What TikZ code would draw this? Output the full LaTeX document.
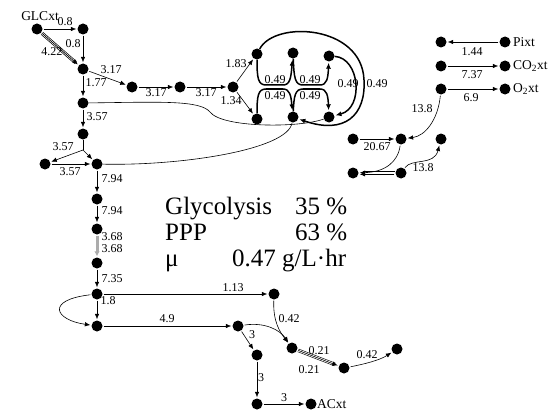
\documentclass[tikz,border=0pt]{standalone}
\usepackage{fontspec}
\setmainfont{Liberation Serif}
\usetikzlibrary{arrows.meta}
\begin{document}
\begin{tikzpicture}[x=1pt,y=-1pt,
  dot/.style={circle,fill=black,inner sep=0pt,minimum size=11pt},
  lbl/.style={font=\fontsize{12}{13}\selectfont,inner sep=0pt},
  ext/.style={font=\fontsize{13.5}{15}\selectfont,inner sep=0pt,anchor=west},
  big/.style={font=\fontsize{25}{27}\selectfont,inner sep=0pt,anchor=base west},
  arr/.style={-{Latex[length=5.5pt,width=4.5pt]},line width=0.6pt,shorten >=1pt,shorten <=1pt},
  plain/.style={line width=0.6pt},
  bund/.style={-{Latex[length=6pt,width=5pt]},line width=1.5pt,shorten >=1pt},
  trip/.style={double,double distance=2pt,line width=0.7pt,shorten <=1pt,shorten >=4pt},
  graybar/.style={-{Latex[length=5pt,width=5.5pt]},line width=3pt,draw=gray!65,shorten >=1pt,shorten <=1pt}
]
\useasboundingbox (0,0) rectangle (557,412);
% nodes
\node[dot] (glc) at (37,29) {};
\node[dot] (n1) at (83,29) {};
\node[dot] (n2) at (83,69) {};
\node[dot] (n3) at (132,87) {};
\node[dot] (n4) at (180,87) {};
\node[dot] (n5) at (233,87) {};
\node[dot] (n6) at (257,54) {};
\node[dot] (n7) at (257,119) {};
\node[dot] (n8) at (293,53) {};
\node[dot] (n9) at (293,117) {};
\node[dot] (n10) at (329,56) {};
\node[dot] (n11) at (329,117) {};
\node[dot] (n12) at (83,103) {};
\node[dot] (n13) at (83,134) {};
\coordinate (j1) at (83,150);
\node[dot] (n14) at (45,164) {};
\node[dot] (n15) at (97,164) {};
\node[dot] (n16) at (97,199) {};
\node[dot] (n17) at (97,229) {};
\node[dot] (n18) at (97,263) {};
\node[dot] (n19) at (97,294) {};
\node[dot] (n20) at (97,326) {};
\node[dot] (n21) at (274,294) {};
\node[dot] (n22) at (238,326) {};
\node[dot] (n23) at (257,355) {};
\node[dot] (n24) at (292,348) {};
\node[dot] (n25) at (257,404) {};
\node[dot] (n26) at (344,368) {};
\node[dot] (n27) at (397,349) {};
\node[dot] (ac) at (311,404) {};
\node[dot] (pl) at (441,42) {};
\node[dot] (pr) at (505,42) {};
\node[dot] (cl) at (441,66) {};
\node[dot] (cr) at (505,66) {};
\node[dot] (ol) at (441,89) {};
\node[dot] (or) at (505,89) {};
\node[dot] (r1) at (353,139) {};
\node[dot] (r2) at (401,139) {};
\node[dot] (r3) at (441,139) {};
\node[dot] (r4) at (353,173) {};
\node[dot] (r5) at (401,173) {};
% external labels
\node[ext,anchor=center] (tglc) at (40,16) {GLCxt};
\node[ext] (tpi) at (513,42) {Pixt};
\node[ext] (tco) at (513,66) {CO\textsubscript{2}xt};
\node[ext] (to) at (513,89) {O\textsubscript{2}xt};
\node[ext] (tac) at (317,404) {ACxt};
% upper glycolysis / ppp
\draw[arr] (glc) -- (n1);
\node[lbl] at (65,22) {0.8};
\draw[arr] (n1) -- (n2);
\node[lbl] at (73,44) {0.8};
\draw[trip] (glc) -- (n2);
\draw[arr,line width=0.7pt] (glc) -- (n2);
\node[lbl] at (52,52) {4.22};
\draw[arr] (n2) -- (n3);
\node[lbl] at (111,70) {3.17};
\draw[arr] (n2) -- (n12);
\node[lbl] at (96,83) {1.77};
\draw[arr] (n3) -- (n4);
\node[lbl] at (156,93) {3.17};
\draw[arr] (n4) -- (n5);
\node[lbl] at (206,93) {3.17};
\draw[arr] (n5) -- (n6);
\node[lbl] at (236,64) {1.83};
\draw[arr] (n5) -- (n7);
\node[lbl] at (231,101) {1.34};
% bundles
\draw[bund] (n6) .. controls (257,78) and (258,85) .. (266,85) -- (283,85) .. controls (290,85) and (291,78) .. (n8);
\draw[bund] (n7) .. controls (257,96) and (258,89) .. (266,89) -- (283,89) .. controls (290,89) and (291,96) .. (n9);
\draw[bund] (n8) .. controls (294,78) and (295,85) .. (303,85) -- (320,85) .. controls (327,85) and (328,78) .. (n10);
\draw[bund] (n9) .. controls (294,96) and (295,89) .. (303,89) -- (320,89) .. controls (327,89) and (328,96) .. (n11);
\node[lbl] at (275,80) {0.49};
\node[lbl] at (275,96) {0.49};
\node[lbl] at (310,80) {0.49};
\node[lbl] at (310,96) {0.49};
\draw[bund] (n6) .. controls (275,20) and (362,25) .. (364,80) .. controls (366,115) and (345,135) .. (n9);
\draw[bund] (n10) .. controls (360,58) and (364,108) .. (n11);
\node[lbl] at (348,84) {0.49};
\node[lbl] at (377,84) {0.49};
% long lines
\draw[plain] (n12) .. controls (160,102) and (200,100) .. (210,112) .. controls (222,128) and (300,128) .. (n11);
\draw[plain] (n15) .. controls (180,166) and (288,150) .. (n9);
% middle column
\draw[arr] (n12) -- (n13);
\node[lbl] at (97,117) {3.57};
\draw[plain] (n13) -- (j1);
\draw[arr,shorten <=0pt] (j1) -- (n14);
\draw[arr,shorten <=0pt] (j1) -- (n15);
\node[lbl] at (63,147) {3.57};
\draw[arr] (n14) -- (n15);
\node[lbl] at (70,172) {3.57};
\draw[arr] (n15) -- (n16);
\node[lbl] at (112,179) {7.94};
\draw[arr] (n16) -- (n17);
\node[lbl] at (112,211) {7.94};
\draw[graybar] (n17) -- (n18);
\node[lbl] at (112,237) {3.68};
\node[lbl] at (112,249) {3.68};
\draw[arr] (n18) -- (n19);
\node[lbl] at (112,279) {7.35};
\draw[arr] (n19) -- (n20);
\node[lbl] at (108,301) {1.8};
\draw[arr] (n19) .. controls (45,300) and (55,320) .. (n20);
\draw[arr] (n19) -- (n21);
\node[lbl] at (233,288) {1.13};
\draw[arr] (n20) -- (n22);
\node[lbl] at (167,319) {4.9};
\draw[arr] (n21) .. controls (273,322) and (280,332) .. (n24);
\node[lbl] at (289,319) {0.42};
\draw[arr] (n22) .. controls (265,322) and (280,330) .. (n24);
\draw[arr] (n22) -- (n23);
\node[lbl] at (252,335) {3};
\draw[arr] (n23) -- (n25);
\node[lbl] at (261,378) {3};
\draw[arr] (n25) -- (ac);
\node[lbl] at (284,398) {3};
\draw[trip,line width=0.6pt,double distance=2.2pt] (n24) -- (n26);
\draw[arr] (n24) -- (n26);
\node[lbl] at (319,351) {0.21};
\node[lbl] at (309,370) {0.21};
\draw[arr] (n26) .. controls (365,364) and (380,360) .. (n27);
\node[lbl] at (367,355) {0.42};
% right cluster
\draw[arr] (pr) -- (pl);
\node[lbl] at (472,52) {1.44};
\draw[arr] (cl) -- (cr);
\node[lbl] at (472,75) {7.37};
\draw[arr] (ol) -- (or);
\node[lbl] at (471,98) {6.9};
\draw[arr] (ol) .. controls (438,120) and (425,136) .. (r2);
\node[lbl] at (422,109) {13.8};
\draw[arr] (r1) -- (r2);
\node[lbl] at (377,147) {20.67};
\draw[arr] (r2) .. controls (398,162) and (385,172) .. (r4);
\draw[arr] ([yshift=-1.3pt]r5.west) -- ([yshift=-1.3pt]r4.east);
\draw[plain,shorten >=4pt] ([yshift=1.3pt]r5.west) -- ([yshift=1.3pt]r4.east);
\draw[arr] (r5) .. controls (412,158) and (434,166) .. (r3);
\node[lbl] at (423,168) {13.8};
% summary text
\node[big] (g1) at (165,214) {Glycolysis};
\node[big] (g2) at (295,214) {35 \%};
\node[big] (p1) at (165,240) {PPP};
\node[big] (p2) at (295,240) {63 \%};
\node[big] (m1) at (165,266) {μ};
\node[big] (m2) at (232,266) {0.47 g/L·hr};
\end{tikzpicture}
\end{document}
